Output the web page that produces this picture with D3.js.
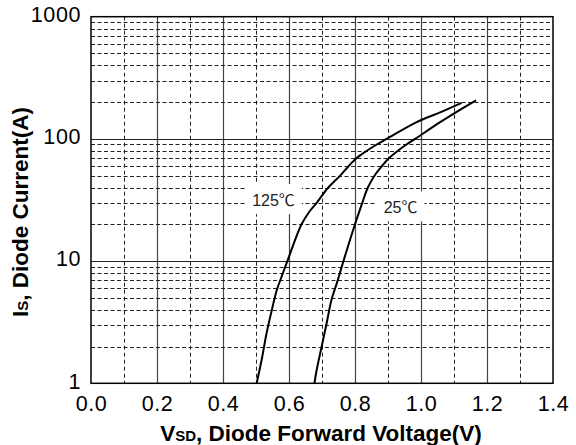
<!DOCTYPE html>
<html><head><meta charset="utf-8">
<script src="https://cdn.jsdelivr.net/npm/d3@7"></script>
<style>body{margin:0;background:#fff}svg{display:block}text{font-family:"Liberation Sans",Arial,sans-serif}</style>
</head><body>
<svg id="c" width="576" height="445"></svg>
<script>
const v125 = [0.502, 0.517, 0.532, 0.548, 0.563, 0.578, 0.595, 0.638, 0.66, 0.684, 0.719, 0.755, 0.781, 0.806, 0.836, 0.866, 0.896, 0.987, 1.058, 1.123];
const i125 = [1, 1.55, 2.57, 3.98, 5.8, 7.5, 10, 20, 25, 30, 40, 50, 60, 70, 80, 90, 100, 137, 165, 197];
const v25 = [0.677, 0.684, 0.699, 0.714, 0.729, 0.745, 0.765, 0.80, 0.822, 0.839, 0.859, 0.882, 0.904, 0.93, 0.956, 0.982, 1.058, 1.118, 1.167];
const i25 = [1, 1.29, 2.0, 3.1, 4.85, 6.6, 10, 20, 30, 40, 50, 60, 70, 80, 90, 100, 137, 173, 207];
const xTicks = [0, 0.2, 0.4, 0.6, 0.8, 1.0, 1.2, 1.4];
const yTicks = [1, 10, 100, 1000];
const seriesLabels = [{num: "125", unit: "℃", v: 0.553, i: 31.4}, {num: "25", unit: "℃", v: 0.938, i: 27.4}];

const svg = d3.select("#c");
const L = 91, T = 16.7, W = 462, H = 366.6;
const x = d3.scaleLinear().domain([0, 1.4]).range([L, L + W]);
const y = d3.scaleLog().domain([1, 1000]).range([T + H, T]);
const g = svg.append("g");

// vertical grid
const vMinor = d3.range(1, 14, 2).map(d => d / 10);
const vMajor = d3.range(2, 14, 2).map(d => d / 10);
g.selectAll(".vmin").data(vMinor).join("line")
  .attr("x1", d => Math.round(x(d)) + 0.5).attr("x2", d => Math.round(x(d)) + 0.5)
  .attr("y1", T).attr("y2", T + H).attr("stroke", "#222").attr("stroke-width", 1)
  .attr("stroke-dasharray", "4,3");
g.selectAll(".vmaj").data(vMajor).join("line")
  .attr("x1", d => Math.round(x(d)) + 0.5).attr("x2", d => Math.round(x(d)) + 0.5)
  .attr("y1", T).attr("y2", T + H).attr("stroke", "#444").attr("stroke-width", 1.2);
// horizontal grid
const hMinor = [];
[1, 10, 100].forEach(dec => { for (let k = 2; k <= 9; k++) hMinor.push(dec * k); });
g.selectAll(".hmin").data(hMinor).join("line")
  .attr("y1", d => Math.round(y(d)) + 0.5).attr("y2", d => Math.round(y(d)) + 0.5)
  .attr("x1", L).attr("x2", L + W).attr("stroke", "#222").attr("stroke-width", 1)
  .attr("stroke-dasharray", "4,2.5");
g.selectAll(".hmaj").data([10, 100]).join("line")
  .attr("y1", d => Math.round(y(d)) + 0.5).attr("y2", d => Math.round(y(d)) + 0.5)
  .attr("x1", L).attr("x2", L + W).attr("stroke", "#222").attr("stroke-width", 1.2);

// series labels with white boxes
seriesLabels.forEach(s => {
  const t = svg.append("text").attr("x", x(s.v)).attr("y", y(s.i)).attr("dy", "0.36em")
    .attr("text-anchor", "middle").attr("font-size", 16).attr("fill", "#222");
  t.append("tspan").text(s.num);
  t.append("tspan").attr("font-family", "Noto Sans CJK JP, sans-serif").attr("font-size", 16).text(s.unit);
  const b = t.node().getBBox();
  svg.insert("rect", "text").attr("x", b.x - 7).attr("y", b.y - 3).attr("width", b.width + 14)
    .attr("height", b.height + 6).attr("fill", "#fff");
});

// curves
const line = d3.line().x(d => x(d[0])).y(d => y(d[1])).curve(d3.curveCatmullRom.alpha(0.5));
[[v125, i125], [v25, i25]].forEach(([vs, is]) => {
  svg.append("path").datum(vs.map((v, k) => [v, is[k]])).attr("d", line)
    .attr("fill", "none").attr("stroke", "#000").attr("stroke-width", 2);
});

// border
svg.append("rect").attr("x", L).attr("y", T).attr("width", W).attr("height", H)
  .attr("fill", "none").attr("stroke", "#000").attr("stroke-width", 1.5);

// axes ticks labels
const xa = svg.append("g").attr("transform", `translate(0,${T + H})`)
  .call(d3.axisBottom(x).tickValues(xTicks).tickFormat(d3.format(".1f")).tickSize(0).tickPadding(15));
const ya = svg.append("g").attr("transform", `translate(${L},0)`)
  .call(d3.axisLeft(y).tickValues(yTicks).tickFormat(d3.format("d")).tickSize(0).tickPadding(10));
[xa, ya].forEach(a => {
  a.select(".domain").remove();
  a.selectAll("text").attr("font-size", 21.5).attr("letter-spacing", 0.6).attr("fill", "#000")
    .attr("font-family", "Liberation Sans, Arial, sans-serif");
});
ya.selectAll("text").attr("dy", "0.22em");
xa.selectAll("text").attr("dy", "0.6em");

// axis titles
const xt = svg.append("text").attr("x", 321).attr("y", 441).attr("text-anchor", "middle")
  .attr("font-size", 22.5).attr("font-weight", "bold").attr("fill", "#000");
xt.append("tspan").text("V");
xt.append("tspan").attr("font-size", 15).text("SD");
xt.append("tspan").text(", Diode Forward Voltage(V)");
const yt = svg.append("text").attr("transform", `translate(28,212) rotate(-90)`)
  .attr("text-anchor", "middle").attr("font-size", 22.5).attr("font-weight", "bold").attr("fill", "#000");
yt.append("tspan").text("I");
yt.append("tspan").attr("font-size", 15).text("S");
yt.append("tspan").text(", Diode Current(A)");
</script>
</body></html>
